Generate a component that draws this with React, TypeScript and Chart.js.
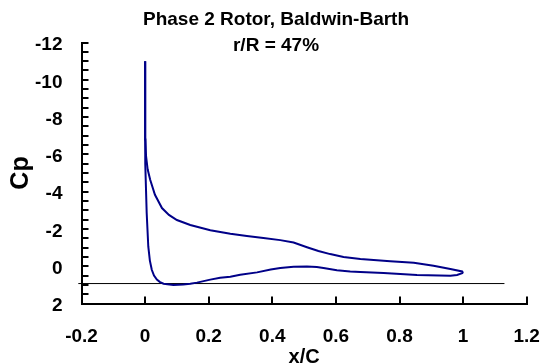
import React, { useEffect, useRef } from 'react';
import { Chart, registerables } from 'chart.js';

Chart.register(...registerables);

const TITLE_LINES = ['Phase 2 Rotor, Baldwin-Barth', 'r/R = 47%'];
const X_TITLE = 'x/C';
const Y_TITLE = 'Cp';

// Upper (suction) surface, from trailing edge to leading edge
const upperX = [1.0, 0.997, 0.96, 0.907, 0.845, 0.771, 0.677, 0.624, 0.582, 0.545, 0.509, 0.467, 0.425, 0.372, 0.32, 0.268, 0.205, 0.142, 0.1, 0.075, 0.053, 0.031, 0.016, 0.008, 0.003, 0.001, 0.0, 0.0];
const upperCp = [0.36, 0.28, 0.15, -0.03, -0.18, -0.27, -0.39, -0.49, -0.65, -0.82, -1.02, -1.27, -1.4, -1.51, -1.62, -1.74, -1.93, -2.21, -2.48, -2.75, -3.12, -3.83, -4.64, -5.2, -5.9, -6.8, -8.5, -11.0];

// Lower (pressure) surface, from leading edge to trailing edge
const lowerX = [0.0, 0.0, 0.001, 0.005, 0.01, 0.015, 0.021, 0.028, 0.037, 0.047, 0.058, 0.089, 0.12, 0.142, 0.163, 0.205, 0.236, 0.268, 0.299, 0.352, 0.395, 0.425, 0.467, 0.509, 0.54, 0.561, 0.603, 0.645, 0.677, 0.75, 0.855, 0.96, 0.981, 1.0];
const lowerCp = [-11.0, -8.0, -5.5, -2.85, -1.06, -0.3, 0.19, 0.5, 0.72, 0.85, 0.94, 1.01, 0.98, 0.94, 0.88, 0.72, 0.62, 0.56, 0.46, 0.33, 0.18, 0.1, 0.03, 0.01, 0.04, 0.1, 0.22, 0.28, 0.31, 0.36, 0.47, 0.51, 0.47, 0.36];

// Horizontal reference line
const refLineX = [-0.21, 1.13];
const refLineCp = [0.93, 0.93];

const X_MIN = -0.2;
const X_MAX = 1.2;
const X_STEP = 0.2;
const Y_MIN = -12;
const Y_MAX = 2;
const Y_MINOR_STEP = 0.5;
const Y_LABEL_STEP = 2;

const NAVY = '#000088';
const FONT = 'Liberation Sans, Arial, sans-serif';

const toPoints = (xs: number[], ys: number[]) => xs.map((x, i) => ({ x, y: ys[i] }));

const fmt = (v: number) => {
  const r = Math.round(v * 10) / 10;
  return r === 0 ? '0' : String(r);
};

export default function App() {
  const ref = useRef<HTMLCanvasElement>(null);

  useEffect(() => {
    document.body.style.margin = '0';
    Chart.defaults.font.family = FONT;
    Chart.defaults.color = '#000';
    const chart = new Chart(ref.current as HTMLCanvasElement, {
      type: 'scatter',
      data: {
        datasets: [
          {
            data: toPoints(upperX, upperCp),
            showLine: true,
            borderColor: NAVY,
            backgroundColor: NAVY,
            borderWidth: 2,
            pointRadius: 0,
            tension: 0,
          },
          {
            data: toPoints(lowerX, lowerCp),
            showLine: true,
            borderColor: NAVY,
            backgroundColor: NAVY,
            borderWidth: 2,
            pointRadius: 0,
            tension: 0,
          },
          {
            data: toPoints(refLineX, refLineCp),
            showLine: true,
            borderColor: '#000',
            backgroundColor: '#000',
            borderWidth: 1,
            pointRadius: 0,
            clip: false,
          } as any,
        ],
      },
      options: {
        animation: false,
        responsive: false,
        events: [],
        layout: { padding: { left: 12, right: 0, top: 0, bottom: 0 } },
        plugins: {
          legend: { display: false },
          tooltip: { enabled: false },
          title: {
            display: true,
            text: TITLE_LINES,
            color: '#000',
            font: { family: FONT, size: 19, weight: 'bold', lineHeight: 1.4 },
            padding: { top: 6, bottom: -16.7 },
          },
        },
        scales: {
          x: {
            type: 'linear',
            position: 'bottom',
            min: X_MIN,
            max: X_MAX,
            ticks: {
              stepSize: X_STEP,
              autoSkip: false,
              maxRotation: 0,
              padding: 29,
              color: '#000',
              font: { family: FONT, size: 19, weight: 'bold' },
              callback: (v: any) => fmt(Number(v)),
            },
            grid: {
              drawOnChartArea: false,
              drawTicks: true,
              tickLength: -7,
              color: '#000',
              lineWidth: 2,
            },
            border: { display: true, color: '#000', width: 2 },
            title: {
              display: true,
              text: X_TITLE,
              color: '#000',
              font: { family: FONT, size: 20, weight: 'bold', lineHeight: 1 },
              padding: { top: 0, bottom: -4 },
            },
            afterFit: (s: any) => {
              s.height = 59.5;
              s.paddingRight = 13.3;
            },
          },
          y: {
            type: 'linear',
            min: Y_MIN,
            max: Y_MAX,
            reverse: true,
            ticks: {
              stepSize: Y_MINOR_STEP,
              maxTicksLimit: 100,
              autoSkip: false,
              padding: 26,
              color: '#000',
              font: { family: FONT, size: 19, weight: 'bold', lineHeight: '5px' },
              callback: (v: any) => {
                const n = Math.round(Number(v) * 2) / 2;
                return n % Y_LABEL_STEP === 0 ? ['', fmt(n)] : '';
              },
            },
            grid: {
              drawOnChartArea: false,
              drawTicks: true,
              tickLength: -7,
              color: '#000',
              lineWidth: 2,
            },
            border: { display: true, color: '#000', width: 2 },
            title: {
              display: true,
              text: Y_TITLE,
              color: '#000',
              font: { family: FONT, size: 25, weight: 'bold', lineHeight: 1 },
              padding: { top: -3, bottom: 0 },
            },
            afterFit: (s: any) => {
              s.width = 69.5;
            },
          },
        },
      } as any,
    });
    return () => chart.destroy();
  }, []);

  return (
    <div style={{ width: 540, height: 363 }}>
      <canvas ref={ref} width={540} height={363} style={{ display: 'block' }} />
    </div>
  );
}
